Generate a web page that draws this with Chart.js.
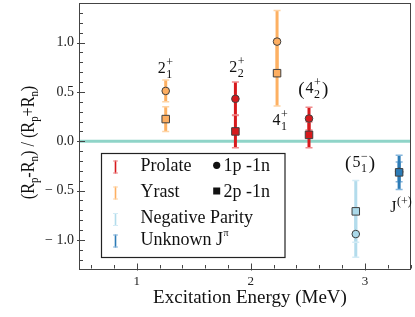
<!DOCTYPE html>
<html lang="en">
<head>
<meta charset="UTF-8">
<title>Radius asymmetry vs excitation energy</title>
<script src="https://cdn.jsdelivr.net/npm/chart.js@4.4.1/dist/chart.umd.min.js"></script>
<style>
  html, body { margin: 0; padding: 0; background: #fff; }
</style>
</head>
<body>
<canvas id="chart" width="415" height="317"></canvas>
<script>
// data
const energies   = [1.254, 1.865, 2.23, 2.51, 2.92, 3.30];        // MeV
const groups     = ['Yrast', 'Prolate', 'Yrast', 'Prolate', 'Negative', 'Unknown'];
const onePOneN    = [0.51, 0.43, 1.01, 0.23, -0.94, -0.31];       // circles
const onePOneNErr = [0.11, 0.17, 0.315, 0.115, 0.235, 0.10];
const twoPOneN    = [0.225, 0.10, 0.69, 0.065, -0.71, -0.315];    // squares
const twoPOneNErr = [0.125, 0.165, 0.333, 0.13, 0.312, 0.173];
const stateLabels = [
  { base: '2', sup: '+', sub: '1' },
  { base: '2', sup: '+', sub: '2' },
  { base: '4', sup: '+', sub: '1' },
  { base: '4', sup: '+', sub: '2', paren: true },
  { base: '5', sup: '\u2212', sub: '1', paren: true },
  { base: 'J', sup: '(+)' }
];
const xMajorTicks = [1, 2, 3];
const yMajorTicks = [-1.0, -0.5, 0.0, 0.5, 1.0];

// where the state names sit (value coords: centre x, baseline y)
const labelAnchors = [[1.25, 0.69], [1.875, 0.70], [2.255, 0.165], [2.545, 0.49], [2.955, -0.26], [3.315, -0.72]];

const colors = {
  Prolate:  { bar: '#d7191c', cap: '#ef8a8c', fill: '#d7191c' },
  Yrast:    { bar: '#fdb062', cap: '#fed3a4', fill: '#fdae61' },
  Negative: { bar: '#b3dcec', cap: '#d3ebf5', fill: '#abd9e9' },
  Unknown:  { bar: '#2c7bb6', cap: '#86b6dc', fill: '#2c7bb6' }
};
const SERIF = '"Liberation Serif", "DejaVu Serif", serif';

function errorBar(x, y, e, g) {
  return {
    type: 'line',
    data: [{ x: x, y: y - e }, { x: x, y: y + e }],
    borderColor: colors[g].bar,
    borderWidth: 3,
    pointStyle: 'line',
    pointRadius: 3.5,
    pointBorderColor: colors[g].cap,
    pointBorderWidth: 1.5,
    order: 2
  };
}

const datasets = [];
datasets.push({
  type: 'scatter', label: '2p-1n',
  data: energies.map((x, i) => ({ x: x, y: twoPOneN[i] })),
  pointStyle: 'rect', pointRadius: 5.3,
  backgroundColor: groups.map(g => colors[g].fill),
  borderColor: '#404040', borderWidth: 1, order: 0
});
datasets.push({
  type: 'scatter', label: '1p-1n',
  data: energies.map((x, i) => ({ x: x, y: onePOneN[i] })),
  pointStyle: 'circle', pointRadius: 3.8,
  backgroundColor: groups.map(g => colors[g].fill),
  borderColor: '#404040', borderWidth: 1, order: 1
});
energies.forEach((x, i) => {
  datasets.push(errorBar(x, twoPOneN[i], twoPOneNErr[i], groups[i]));
  datasets.push(errorBar(x, onePOneN[i], onePOneNErr[i], groups[i]));
});
datasets.push({
  type: 'line', label: 'zero',
  data: [{ x: 0.494, y: 0 }, { x: 3.404, y: 0 }],
  borderColor: '#8fd4c8', borderWidth: 3, pointRadius: 0, order: 3
});

function isMajor(v, list) { return list.some(m => Math.abs(m - v) < 1e-6); }

function drawLevel(ctx, cx, by, lab) {
  const mainF = '16px ' + SERIF, scrF = '12px ' + SERIF, parF = '19px ' + SERIF;
  ctx.font = mainF; const wb = ctx.measureText(lab.base).width;
  ctx.font = scrF;
  const ws = Math.max(lab.sup ? ctx.measureText(lab.sup).width : 0, lab.sub ? ctx.measureText(lab.sub).width : 0);
  ctx.font = parF; const wp = lab.paren ? ctx.measureText('(').width + 1 : 0;
  let x = cx - (wb + ws + 2 * wp) / 2;
  if (lab.paren) { ctx.font = parF; ctx.fillText('(', x, by + 2); x += wp; }
  ctx.font = mainF; ctx.fillText(lab.base, x, by); x += wb + 0.5;
  ctx.font = scrF;
  if (lab.sup) ctx.fillText(lab.sup, x, by - 7);
  if (lab.sub) ctx.fillText(lab.sub, x, by + 5);
  x += ws;
  if (lab.paren) { ctx.font = parF; ctx.fillText(')', x + 1, by + 2); }
}

// text with subscript runs: [[text, isSub], ...]
function drawRuns(ctx, runs, x, y, mainSize, subSize, drop) {
  runs.forEach(r => {
    ctx.font = (r[1] ? subSize : mainSize) + 'px ' + SERIF;
    ctx.fillText(r[0], x, y + (r[1] ? drop : 0));
    x += ctx.measureText(r[0]).width;
  });
}
function runsWidth(ctx, runs, mainSize, subSize) {
  let w = 0;
  runs.forEach(r => { ctx.font = (r[1] ? subSize : mainSize) + 'px ' + SERIF; w += ctx.measureText(r[0]).width; });
  return w;
}

const decorations = {
  id: 'decorations',
  afterDraw(chart) {
    const ctx = chart.ctx, a = chart.chartArea, xs = chart.scales.x, ys = chart.scales.y;
    ctx.save();
    // frame
    ctx.strokeStyle = '#444'; ctx.lineWidth = 1;
    ctx.strokeRect(Math.round(a.left) + 0.5, Math.round(a.top) + 0.5, Math.round(a.right - a.left) - 1, Math.round(a.bottom - a.top));
    // inward ticks
    ctx.beginPath();
    ys.ticks.forEach(t => {
      const y = Math.round(ys.getPixelForValue(t.value)) + 0.5;
      const mj = isMajor(t.value, yMajorTicks);
      ctx.moveTo(a.left - (mj ? 2 : 0), y); ctx.lineTo(a.left + (mj ? 6 : 4), y);
    });
    xs.ticks.forEach(t => {
      const x = Math.round(xs.getPixelForValue(t.value)) + 0.5;
      const mj = isMajor(t.value, xMajorTicks);
      ctx.moveTo(x, a.bottom + (mj ? 2 : 0)); ctx.lineTo(x, a.bottom - (mj ? 5 : 3.5));
    });
    ctx.stroke();

    ctx.fillStyle = '#111'; ctx.textAlign = 'left'; ctx.textBaseline = 'alphabetic';
    // state labels
    stateLabels.forEach((lab, i) => {
      drawLevel(ctx, xs.getPixelForValue(labelAnchors[i][0]), ys.getPixelForValue(labelAnchors[i][1]), lab);
    });

    // axis titles
    ctx.font = '19px ' + SERIF; ctx.textAlign = 'center';
    ctx.fillText('Excitation Energy (MeV)', 250, 303);
    ctx.textAlign = 'left';
    const yRuns = [['(R', 0], ['p', 1], ['-R', 0], ['n', 1], [') / (R', 0], ['p', 1], ['+R', 0], ['n', 1], [')', 0]];
    ctx.save();
    ctx.translate(33.5, 142.5); ctx.rotate(-Math.PI / 2); ctx.scale(0.9, 1);
    const w = runsWidth(ctx, yRuns, 18, 12);
    drawRuns(ctx, yRuns, -w / 2, 0, 18, 12, 4);
    ctx.restore();

    // legend
    ctx.strokeStyle = '#222'; ctx.lineWidth = 1.2;
    ctx.strokeRect(101.5, 153.5, 183.5, 104);
    const rows = [['Prolate', 'Prolate', 170.5], ['Yrast', 'Yrast', 196.5], ['Negative', 'Negative Parity', 223], ['Unknown', 'Unknown J', 244.5]];
    rows.forEach(r => {
      const c = colors[r[0]], bx = 115.5, t = r[2] - 10, b = r[2] + 3;
      ctx.strokeStyle = c.bar; ctx.lineWidth = 1.6;
      ctx.beginPath(); ctx.moveTo(bx, t); ctx.lineTo(bx, b); ctx.stroke();
      ctx.strokeStyle = c.cap; ctx.lineWidth = 1;
      ctx.beginPath(); ctx.moveTo(bx - 2.5, t + 0.5); ctx.lineTo(bx + 2.5, t + 0.5);
      ctx.moveTo(bx - 2.5, b - 0.5); ctx.lineTo(bx + 2.5, b - 0.5); ctx.stroke();
      ctx.font = '18px ' + SERIF; ctx.fillStyle = '#111';
      ctx.fillText(r[1], 140.5, r[2]);
      if (r[0] === 'Unknown') {
        const wu = ctx.measureText(r[1]).width;
        ctx.font = '10px ' + SERIF; ctx.fillText('\u03c0', 140.5 + wu + 0.5, r[2] - 9);
      }
    });
    ctx.fillStyle = '#111';
    ctx.beginPath(); ctx.arc(216.7, 165.3, 3.6, 0, Math.PI * 2); ctx.fill();
    ctx.fillRect(213.2, 187.5, 7, 7);
    ctx.font = '18px ' + SERIF;
    ctx.fillText('1p -1n', 223.5, 170.5);
    ctx.fillText('2p -1n', 223.5, 196.5);
    ctx.restore();
  }
};

new Chart(document.getElementById('chart'), {
  type: 'scatter',
  data: { datasets: datasets },
  options: {
    responsive: false,
    animation: false,
    layout: { autoPadding: false, padding: { left: 0, right: 4, top: 3, bottom: 0 } },
    plugins: { legend: { display: false }, tooltip: { enabled: false } },
    scales: {
      x: {
        type: 'linear', min: 0.494, max: 3.404,
        grid: { display: false, drawTicks: false },
        border: { display: false },
        afterBuildTicks: s => {
          const t = [];
          for (let v = 0.6; v < 3.41; v += 0.2) t.push({ value: Math.round(v * 10) / 10 });
          s.ticks = t;
        },
        afterFit: s => { s.height = 48.5; s.paddingLeft = 0; s.paddingRight = 0; },
        ticks: {
          autoSkip: false, maxRotation: 0, padding: 5, color: '#222',
          font: { family: SERIF, size: 13 },
          callback: v => isMajor(v, xMajorTicks) ? String(Math.round(v)) : ''
        }
      },
      y: {
        type: 'linear', min: -1.289, max: 1.401,
        grid: { display: false, drawTicks: false },
        border: { display: false },
        afterBuildTicks: s => {
          const t = [];
          for (let k = -12; k <= 13; k++) t.push({ value: k / 10 });
          s.ticks = t;
        },
        afterFit: s => { s.width = 79; s.paddingTop = 0; s.paddingBottom = 0; },
        ticks: {
          autoSkip: false, padding: 5, color: '#222',
          font: { family: SERIF, size: 14 },
          callback: v => {
            if (!isMajor(v, yMajorTicks)) return '';
            return v < 0 ? '\u2212 ' + Math.abs(v).toFixed(1) : v.toFixed(1);
          }
        }
      }
    }
  },
  plugins: [decorations]
});
</script>
</body>
</html>
